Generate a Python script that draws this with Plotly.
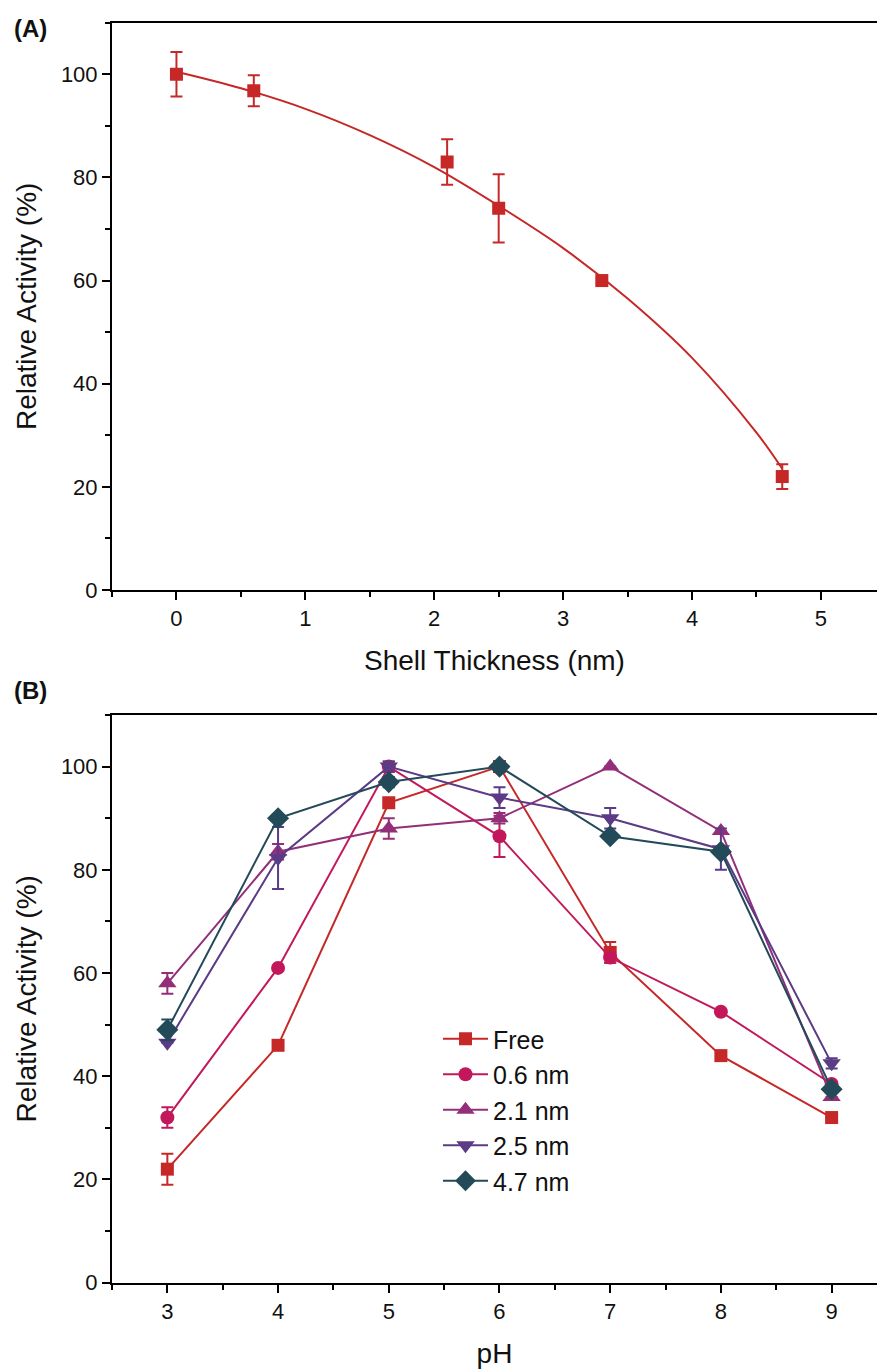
import plotly.graph_objects as go

# (A) activity vs shell thickness
thickness = [0, 0.6, 2.1, 2.5, 3.3, 4.7]
activity_a = [100, 96.8, 83, 74, 60, 22]
err_a = [4.3, 3.0, 4.4, 6.6, 0.5, 2.4]

# fitted curve
fit_x = [0, 0.5, 1, 1.5, 2, 2.5, 3, 3.5, 4, 4.5, 4.7]
fit_y = [100.5, 97.3, 93.3, 88.2, 82, 74.5, 66.3, 56.5, 45, 30.5, 23.5]

# (B) activity vs pH
ph = [3, 4, 5, 6, 7, 8, 9]
series_names = ["Free", "0.6 nm", "2.1 nm", "2.5 nm", "4.7 nm"]
act_free = [22, 46, 93, 100, 64, 44, 32]
act_06 = [32, 61, 100, 86.5, 63, 52.5, 38.5]
act_21 = [58, 83.5, 88, 90, 100, 87.5, 36]
act_25 = [46.5, 82.3, 100, 94, 90, 84, 42.5]
act_47 = [49, 90, 97, 100, 86.5, 83.5, 37.5]
err_free = [3, 0, 0, 1, 2, 0, 0]
err_06 = [2, 0, 1, 4, 1, 0, 0]
err_21 = [2, 1.5, 2, 1, 0, 0, 0]
err_25 = [0, 6, 1, 2, 2, 4, 1]
err_47 = [2, 0, 1, 0, 0, 0, 0]

colors = ["#C62828", "#C2185B", "#932F79", "#5B3A86", "#234A59"]
symbols = ["square", "circle", "triangle-up", "triangle-down", "diamond"]
sizes = [13, 14, 16, 16, 17]
font = "Liberation Sans, Arial, sans-serif"
ink = "#111111"

W, H = 877, 1370

fig = go.Figure()

fig.add_trace(go.Scatter(x=fit_x, y=fit_y, mode="lines", line=dict(color=colors[0], width=2, shape="spline"),
                         showlegend=False, xaxis="x", yaxis="y"))
fig.add_trace(go.Scatter(x=thickness, y=activity_a, mode="markers",
                         marker=dict(symbol="square", size=13, color=colors[0]),
                         error_y=dict(type="data", array=err_a, color=colors[0], thickness=2, width=6),
                         showlegend=False, xaxis="x", yaxis="y"))

ys = [act_free, act_06, act_21, act_25, act_47]
es = [err_free, err_06, err_21, err_25, err_47]
for name, y, e, c, s, sz in zip(series_names, ys, es, colors, symbols, sizes):
    fig.add_trace(go.Scatter(x=ph, y=y, name=name, mode="lines+markers",
                             line=dict(color=c, width=2),
                             marker=dict(symbol=s, size=sz, color=c),
                             error_y=dict(type="data", array=e, color=c, thickness=2, width=6),
                             xaxis="x2", yaxis="y2"))

axis_common = dict(showline=True, linecolor="black", linewidth=2, ticks="outside", ticklen=8, tickwidth=2,
                   tickcolor="black", showgrid=False, zeroline=False, automargin=False,
                   tickfont=dict(family=font, size=22, color=ink),
                   title_font=dict(family=font, size=28, color=ink))

x_dom = [112 / W, 1]
dom_a = [1 - 590 / H, 1 - 22.7 / H]
dom_b = [1 - 1282.7 / H, 1 - 715 / H]

fig.update_layout(
    width=W, height=H,
    margin=dict(l=0, r=0, t=0, b=0),
    paper_bgcolor="white", plot_bgcolor="white",
    xaxis=dict(axis_common, domain=x_dom, anchor="y", range=[-0.5, 5.435], tick0=0, dtick=1, mirror=True,
               minor=dict(dtick=0.5, ticks="outside", ticklen=5, tickwidth=2, tickcolor="black"),
               title=dict(text="Shell Thickness (nm)", standoff=20)),
    yaxis=dict(axis_common, domain=dom_a, anchor="x", range=[0, 110], tick0=0, dtick=20,
               minor=dict(dtick=10, ticks="outside", ticklen=5, tickwidth=2, tickcolor="black"),
               title=dict(text="Relative Activity (%)", standoff=16)),
    xaxis2=dict(axis_common, domain=x_dom, anchor="y2", range=[2.5, 9.41], tick0=3, dtick=1, mirror=True,
                minor=dict(dtick=0.5, ticks="outside", ticklen=5, tickwidth=2, tickcolor="black"),
                title=dict(text="pH", standoff=20)),
    yaxis2=dict(axis_common, domain=dom_b, anchor="x2", range=[0, 110], tick0=0, dtick=20,
                minor=dict(dtick=10, ticks="outside", ticklen=5, tickwidth=2, tickcolor="black"),
                title=dict(text="Relative Activity (%)", standoff=16)),
    legend=dict(x=438 / W, xanchor="left", y=1 - 1016 / H, yanchor="top", itemwidth=45,
                font=dict(family=font, size=25, color=ink), bgcolor="rgba(0,0,0,0)", tracegroupgap=0),
    annotations=[
        dict(text="<b>(A)</b>", x=12 / W, y=1 - 28 / H, xref="paper", yref="paper", xanchor="left",
             yanchor="middle", showarrow=False, font=dict(family=font, size=24, color=ink)),
        dict(text="<b>(B)</b>", x=12 / W, y=1 - 690 / H, xref="paper", yref="paper", xanchor="left",
             yanchor="middle", showarrow=False, font=dict(family=font, size=24, color=ink)),
    ],
)

# drop the browser's default page margin so the figure sits at the window's corner
fig.write_html("out.html", config={"displayModeBar": False},
               post_script="document.body.style.margin = '0';")
